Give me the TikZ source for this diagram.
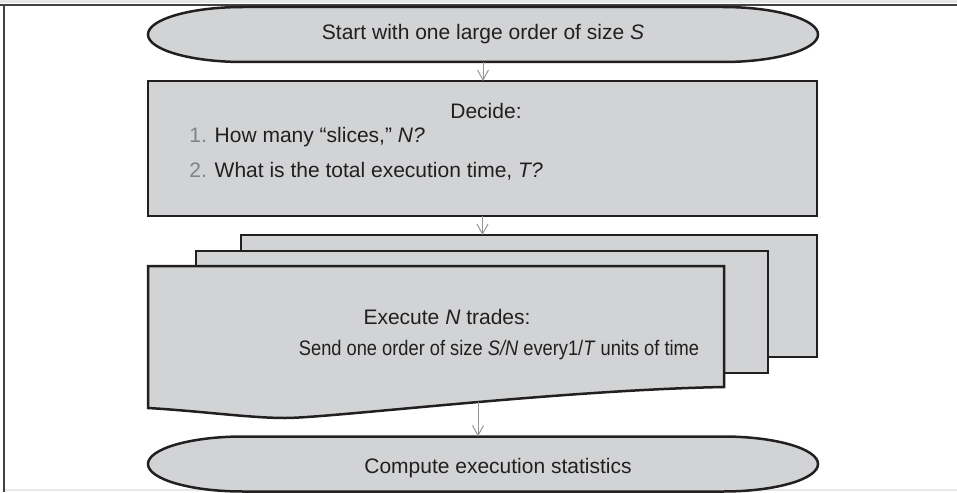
\documentclass[tikz,border=0pt]{standalone}
\usepackage{fontspec}
\setmainfont{Liberation Sans}
\newfontfamily\narrowsans[FakeStretch=0.87]{Liberation Sans}
\usetikzlibrary{arrows.meta, positioning, calc}

\definecolor{panelgray}{HTML}{D1D3D4}
\definecolor{inkblack}{HTML}{231F20}
\definecolor{flowgray}{HTML}{939598}
\definecolor{stepgray}{HTML}{808285}
\definecolor{rulegray}{HTML}{E6E7E8}

\tikzset{
  outline/.style={draw=inkblack, line width=1.25pt, fill=panelgray},
  plate/.style={outline, rectangle, inner sep=0pt, outer sep=0pt, anchor=north west},
  capsule/.style={rectangle, inner sep=0pt, outer sep=0pt, minimum width=335pt, minimum height=27.5pt},
  txt/.style={font=\fontsize{10.5}{12.6}\selectfont, text=inkblack, inner sep=0pt, anchor=base},
  flow/.style={draw=flowgray, line width=0.5pt, -{Straight Barb[length=5pt, width=5.5pt]}},
}

% flattened oval drawn round an empty node
\newcommand{\capsuleshape}[1]{%
  \path[outline] ($(#1.north west)+(47.5pt,0pt)$) -- ($(#1.north east)+(-47.5pt,0pt)$)
    arc[start angle=90, end angle=-90, x radius=47.5pt, y radius=13.75pt]
    -- ($(#1.south west)+(47.5pt,0pt)$)
    arc[start angle=270, end angle=90, x radius=47.5pt, y radius=13.75pt] -- cycle;}

\begin{document}
\begin{tikzpicture}[x=0.5pt, y=-0.5pt]
  \useasboundingbox (0,0) rectangle (957,492);

  % frame
  \fill[rulegray] (0,0) rectangle (957,3);
  \draw[inkblack!85, line width=1pt] (0,5) -- (957,5);
  \draw[inkblack!85, line width=1pt] (4,5) -- (4,492);
  \draw[rulegray, line width=1pt] (5,490) -- (957,490);

  % start and end
  \node[capsule] (start) at (483,34.5) {};
  \node[capsule] (finish) at (483,464) {};
  \capsuleshape{start}
  \capsuleshape{finish}

  \node[plate, minimum width=334.5pt, minimum height=67.5pt] (decide) at (148,81) {};

  % stack of trade sheets
  \node[plate, minimum width=288pt, minimum height=61pt] (back) at (241,235) {};
  \node[plate, minimum width=286pt, minimum height=61pt] (middle) at (196,251) {};
  \path[outline] (148,266) -- (724,266) -- (724,387)
    .. controls (560,390) and (330,418) .. (285,418)
    .. controls (250,418) and (200,411) .. (148,408) -- cycle;
  \coordinate (foot) at (478,402);

  % texts
  \node[txt] (starttext) at (483,39.5) {Start with one large order of size \textit{S}};
  \node[txt] (decidehead) at (486,119) {Decide:};
  \node[txt, anchor=base west] (ask1) at (189,142) {\textcolor{stepgray}{1.} How many “slices,” \textit{N?}};
  \node[txt, anchor=base west] (ask2) at (189,177) {\textcolor{stepgray}{2.} What is the total execution time, \textit{T?}};
  \node[txt] (tradehead) at (447,324) {Execute \textit{N} trades:};
  \node[txt] (tradeline) at (499,355) {\narrowsans Send one order of size \textit{S/N} every1/\textit{T} units of time};
  \node[txt] (finishtext) at (498,473) {Compute execution statistics};

  % arrows
  \draw[flow] (start.south) -- (start.south |- decide.north);
  \draw[flow] (decide.south) -- (decide.south |- back.north);
  \draw[flow] (foot) -- (foot |- finish.north);
\end{tikzpicture}
\end{document}
